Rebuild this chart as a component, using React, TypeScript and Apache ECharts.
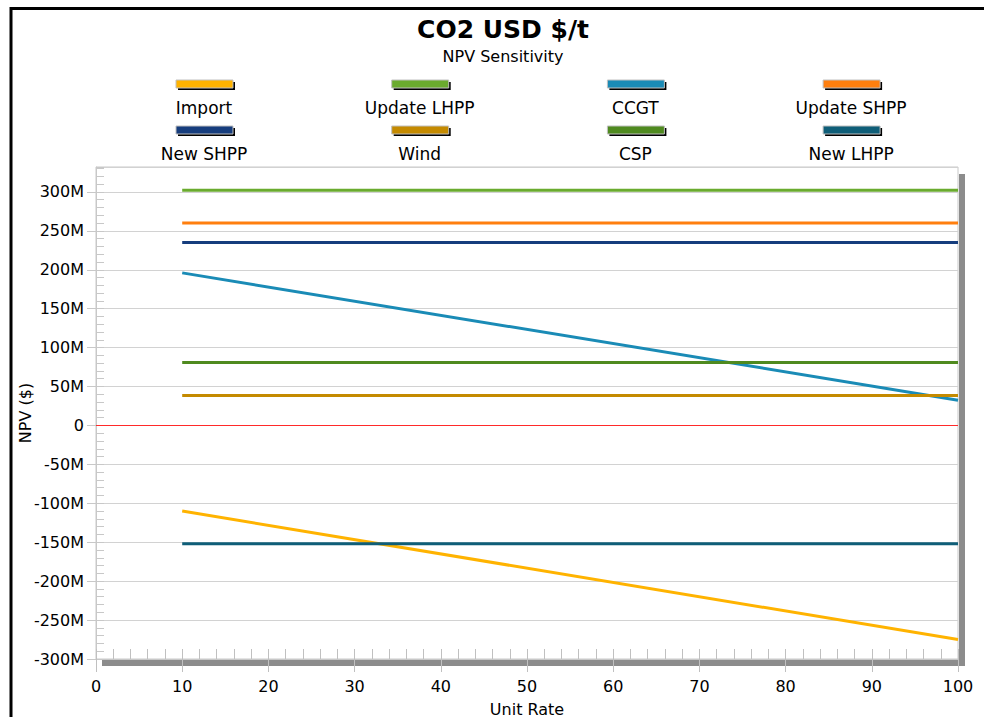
import React, { useEffect, useRef } from 'react';
import * as echarts from 'echarts';

// ---- data ----
const unitRate = [10, 100];
const seriesNames = ['Import', 'Update LHPP', 'CCGT', 'Update SHPP', 'New SHPP', 'Wind', 'CSP', 'New LHPP'];
const seriesColors = ['#FFB300', '#6AAB2E', '#1A8BB6', '#FF7F0E', '#163D7D', '#C48A00', '#4F8A1F', '#0F5E78'];
const importNpv = [-110e6, -275e6];
const updateLhppNpv = [302e6, 302e6];
const ccgtNpv = [196e6, 32.5e6];
const updateShppNpv = [260e6, 260e6];
const newShppNpv = [235e6, 235e6];
const windNpv = [38.5e6, 38.5e6];
const cspNpv = [81e6, 81e6];
const newLhppNpv = [-152e6, -152e6];
const seriesValues = [importNpv, updateLhppNpv, ccgtNpv, updateShppNpv, newShppNpv, windNpv, cspNpv, newLhppNpv];
const zeroLineValue = 0;

const yMin = -300e6;
const yMax = 332e6;
const yMajor = 50e6;
const yMinor = 10e6;
const xMin = 0;
const xMax = 100;
const xMajor = 10;
const xMinor = 2;

const FONT = 'DejaVu Sans';

export default function App() {
  const ref = useRef<HTMLDivElement>(null);

  useEffect(() => {
    if (!ref.current) return;
    const chart = echarts.init(ref.current, null, { renderer: 'svg' });

    const legendGraphics: any[] = [];
    seriesNames.forEach((name, i) => {
      const col = i % 4;
      const row = Math.floor(i / 4);
      const cx = 204 + col * 215.7;
      const iy = 80 + row * 46;
      legendGraphics.push({
        type: 'rect',
        shape: { x: cx - 28 + 2, y: iy + 2, width: 57, height: 8 },
        style: { fill: '#000' },
        silent: true,
      });
      legendGraphics.push({
        type: 'rect',
        shape: { x: cx - 28, y: iy, width: 57, height: 8 },
        style: { fill: seriesColors[i], stroke: '#c0c0c0', lineWidth: 1 },
        silent: true,
      });
      legendGraphics.push({
        type: 'text',
        x: cx,
        y: iy + 28,
        style: {
          text: name,
          fontSize: 17,
          fontFamily: FONT,
          fill: '#000',
          align: 'center',
          verticalAlign: 'middle',
        },
        silent: true,
      });
    });

    const series: any[] = seriesNames.map((name, i) => ({
      name,
      type: 'line',
      xAxisIndex: 0,
      yAxisIndex: 0,
      showSymbol: false,
      symbol: 'none',
      lineStyle: { width: 3, color: seriesColors[i] },
      itemStyle: { color: seriesColors[i] },
      data: unitRate.map((x, k) => [x, seriesValues[i][k]]),
      z: 3,
    }));
    series[0].markLine = {
      silent: true,
      z: 2,
      symbol: ['none', 'none'],
      label: { show: false },
      emphasis: { disabled: true },
      lineStyle: { color: '#ff2a2a', width: 1, type: 'solid', opacity: 1 },
      data: [{ yAxis: zeroLineValue }],
    };

    chart.setOption({
      animation: false,
      backgroundColor: '#fff',
      textStyle: { fontFamily: FONT },
      grid: {
        left: 96,
        right: 26,
        top: 167,
        bottom: 58,
        show: true,
        borderColor: '#c8c8c8',
        borderWidth: 1,
        containLabel: false,
        outerBoundsMode: 'none',
      },
      xAxis: [
        {
          type: 'value',
          min: xMin,
          max: xMax,
          interval: xMajor,
          position: 'bottom',
          axisLine: { show: true, onZero: false, lineStyle: { color: '#c8c8c8', width: 1 } },
          axisTick: { show: true, length: 13, lineStyle: { color: '#c0c0c0' } },
          axisLabel: { fontSize: 16, color: '#000', margin: 19, fontFamily: FONT },
          splitLine: { show: false },
          name: 'Unit Rate',
          nameLocation: 'middle',
          nameGap: 42,
          nameMoveOverlap: false,
          nameTextStyle: { fontSize: 16, color: '#000', fontFamily: FONT },
        },
        {
          type: 'value',
          min: xMin,
          max: xMax,
          interval: xMinor,
          position: 'bottom',
          axisLine: { show: false, onZero: false },
          axisTick: { show: true, inside: true, length: 10, lineStyle: { color: '#c0c0c0' } },
          axisLabel: { show: false },
          splitLine: { show: false },
        },
      ],
      yAxis: [
        {
          type: 'value',
          min: yMin,
          max: yMax,
          interval: yMajor,
          position: 'left',
          axisLine: { show: true, onZero: false, lineStyle: { color: '#c8c8c8', width: 1 } },
          axisTick: { show: true, length: 9, lineStyle: { color: '#c8c8c8' } },
          axisLabel: {
            fontSize: 16,
            color: '#000',
            margin: 12,
            fontFamily: FONT,
            showMaxLabel: false,
            formatter: (v: number) => {
              if (Math.abs(v % yMajor) > 1) return '';
              if (v === 0) return '0';
              return Math.round(v / 1e6) + 'M';
            },
          },
          splitLine: { show: true, lineStyle: { color: '#d2d2d2', width: 1.2 } },
          name: 'NPV ($)',
          nameLocation: 'middle',
          nameGap: 63,
          nameMoveOverlap: false,
          nameTextStyle: { fontSize: 16, color: '#000', fontFamily: FONT },
        },
        {
          type: 'value',
          min: yMin,
          max: yMax,
          interval: yMinor,
          position: 'left',
          axisLine: { show: false, onZero: false },
          axisTick: { show: true, inside: true, length: 8, lineStyle: { color: '#c8c8c8' } },
          axisLabel: { show: false },
          splitLine: { show: false },
        },
      ],
      graphic: [
        {
          type: 'rect',
          shape: { x: 11, y: 8.5, width: 1100, height: 900 },
          style: { fill: 'none', stroke: '#000', lineWidth: 3 },
          silent: true,
        },
        {
          type: 'rect',
          shape: { x: 959, y: 174, width: 6, height: 492 },
          style: { fill: '#8c8c8c' },
          silent: true,
        },
        {
          type: 'rect',
          shape: { x: 102, y: 660, width: 863, height: 6 },
          style: { fill: '#8c8c8c' },
          silent: true,
        },
        {
          type: 'text',
          x: 503,
          y: 29,
          style: {
            text: 'CO2 USD $/t',
            fontSize: 25,
            fontWeight: 'bold',
            fontFamily: FONT,
            fill: '#000',
            align: 'center',
            verticalAlign: 'middle',
          },
          silent: true,
        },
        {
          type: 'text',
          x: 503,
          y: 56,
          style: {
            text: 'NPV Sensitivity',
            fontSize: 16,
            fontFamily: FONT,
            fill: '#000',
            align: 'center',
            verticalAlign: 'middle',
          },
          silent: true,
        },
        ...legendGraphics,
      ],
      series,
    });

    return () => {
      chart.dispose();
    };
  }, []);

  return (
    <div
      ref={ref}
      style={{ position: 'fixed', left: 0, top: 0, width: 984, height: 717, background: '#fff' }}
    />
  );
}
